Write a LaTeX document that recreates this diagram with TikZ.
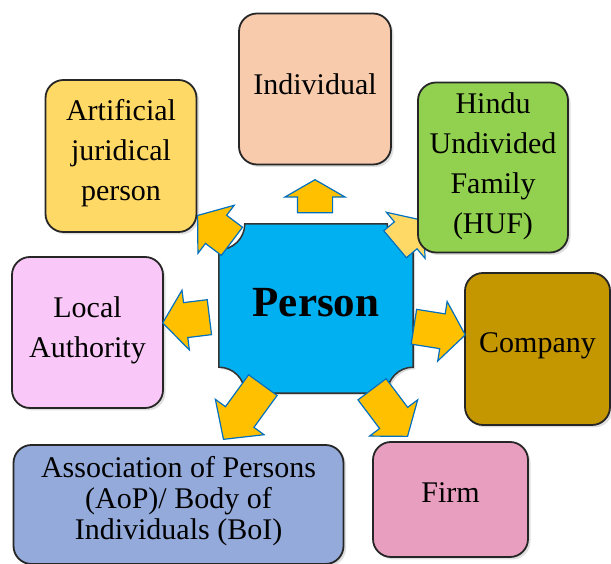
\documentclass[tikz,border=0pt]{standalone}
\usepackage{fontspec}
\setmainfont{Liberation Serif}
\usetikzlibrary{shapes.arrows, shadows}

\begin{document}
\begin{tikzpicture}[x=1pt, y=1pt,
  cat_box/.style={draw=black!85, line width=1.8pt, rounded corners=18pt, align=center, inner sep=0pt,
    drop shadow={shadow xshift=2.5pt, shadow yshift=-2.5pt, opacity=0.25},
    font=\fontsize{30}{40}\selectfont},
  block_arrow/.style={single arrow, draw=arrow_line_color, line width=1.2pt, fill=arrow_color,
    inner xsep=0pt, inner ysep=17pt, minimum width=59pt, single arrow head extend=12.5pt,
    single arrow tip angle=105, anchor=tip}]
\definecolor{person_color}{RGB}{0,176,240}
\definecolor{indiv_color}{RGB}{248,203,173}
\definecolor{artif_color}{RGB}{255,217,102}
\definecolor{huf_color}{RGB}{146,208,80}
\definecolor{local_color}{RGB}{250,200,248}
\definecolor{company_color}{RGB}{196,150,0}
\definecolor{assoc_color}{RGB}{148,170,218}
\definecolor{firm_color}{RGB}{232,158,190}
\definecolor{arrow_color}{RGB}{255,192,0}
\definecolor{arrow_light_color}{RGB}{255,217,102}
\definecolor{arrow_line_color}{RGB}{0,112,192}

\useasboundingbox (0,0) rectangle (611,564);

% centre box with concave corners
\node[minimum width=194pt, minimum height=169pt, inner sep=0pt] (person) at (316,255.5) {};
\draw[line width=1.5pt, draw=black!80, fill=person_color, drop shadow={shadow xshift=2pt, shadow yshift=-2pt, opacity=0.3}]
  ([yshift=-26pt]person.north west) arc[start angle=-90, end angle=0, radius=26pt]
  -- ([xshift=-26pt]person.north east) arc[start angle=180, end angle=270, radius=26pt]
  -- ([yshift=26pt]person.south east) arc[start angle=90, end angle=180, radius=26pt]
  -- ([xshift=26pt]person.south west) arc[start angle=0, end angle=90, radius=26pt]
  -- cycle;
\node[font=\fontsize{43}{50}\selectfont\bfseries, text depth=12pt] (person_label) at (person.center) {Person};

% arrow that runs under the HUF box
\node[block_arrow, fill=arrow_light_color, minimum height=37pt, rotate=40] (arr_huf) at (424,344) {};

% the seven kinds of person
\node[cat_box, fill=indiv_color, minimum width=152pt, minimum height=151pt, text depth=10pt] (indiv) at (315,475) {Individual};
\node[cat_box, fill=artif_color, minimum width=151pt, minimum height=152pt, text depth=12.5pt] (artif) at (121,408) {Artificial\\juridical\\person};
\node[cat_box, fill=huf_color, minimum width=150pt, minimum height=170pt, text depth=9.5pt] (huf) at (493,396.5) {Hindu\\Undivided\\Family\\(HUF)};
\node[cat_box, fill=local_color, minimum width=151pt, minimum height=151pt, text depth=11.5pt] (local) at (87.5,231.5) {Local\\Authority};
\node[cat_box, fill=company_color, minimum width=145pt, minimum height=152pt, text depth=12.5pt] (company) at (537.5,215) {Company};
\node[cat_box, fill=assoc_color, minimum width=330pt, minimum height=119pt, text depth=14pt, font=\fontsize{30}{31}\selectfont] (assoc) at (178.5,59.5) {Association of Persons\\(AoP)/ Body of\\Individuals (BoI)};
\node[cat_box, fill=firm_color, minimum width=155pt, minimum height=115pt, text depth=13.5pt] (firm) at (450.5,64.5) {Firm};

% arrows out of the centre
\node[block_arrow, minimum height=33pt, rotate=90, single arrow tip angle=120] (arr_indiv) at (315,385) {};
\node[block_arrow, minimum height=43pt, rotate=143] (arr_artif) at (197,349) {};
\node[block_arrow, minimum height=47pt, rotate=187] (arr_local) at (162,241) {};
\node[block_arrow, minimum height=52pt, rotate=-9] (arr_company) at (466,229) {};
\node[block_arrow, minimum height=67pt, rotate=234, single arrow tip angle=95] (arr_assoc) at (223,124) {};
\node[block_arrow, minimum height=59pt, rotate=-53] (arr_firm) at (408,127) {};

\end{tikzpicture}
\end{document}
